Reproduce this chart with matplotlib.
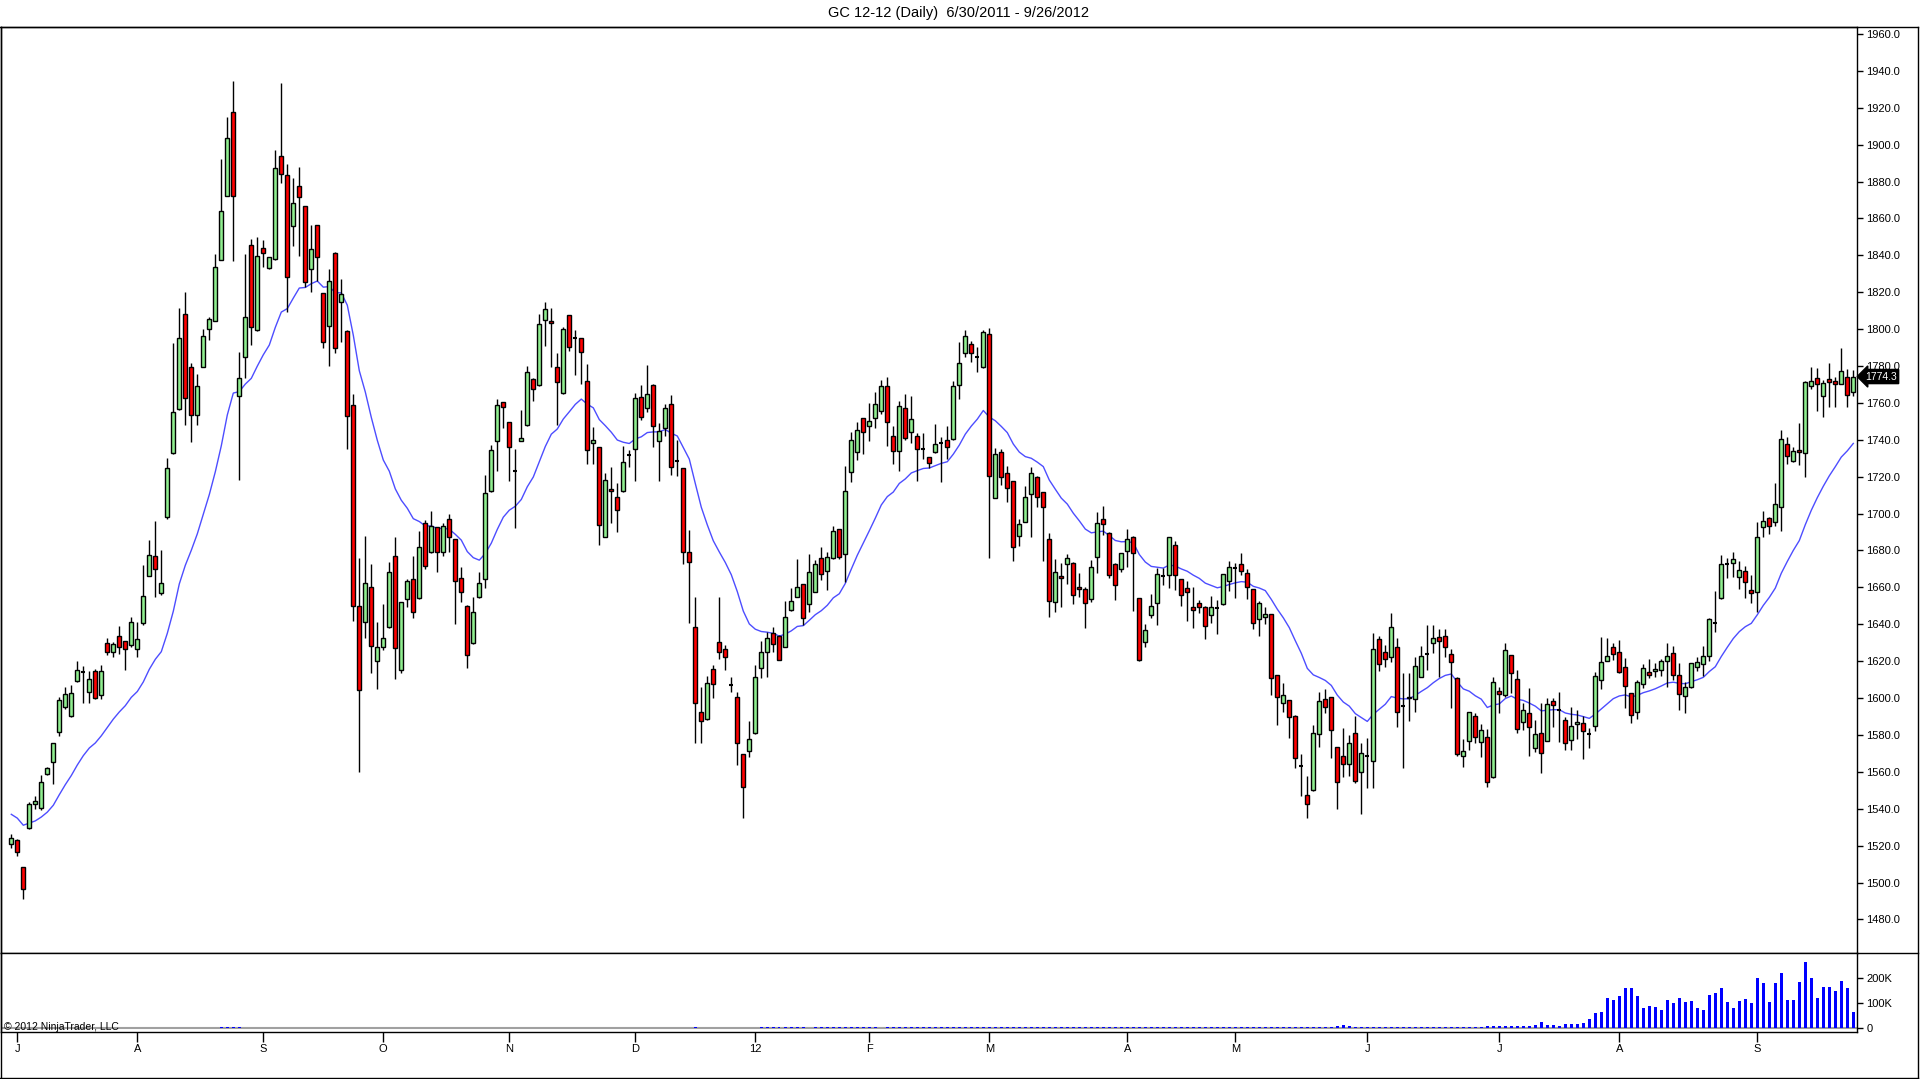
import matplotlib
matplotlib.use('Agg')
import matplotlib.pyplot as plt
import numpy as np
from matplotlib.lines import Line2D

plt.rcParams['font.family'] = ['Liberation Sans', 'DejaVu Sans']

title = 'GC 12-12 (Daily)  6/30/2011 - 9/26/2012'

opens = [
1520.8,1523.1,1508.5,1529.8,1542.4,1540.6,1558.7,1565.6,1581.8,1595.4,
1590.3,1609.1,1614.4,1603.2,1614.5,1601.9,1629.7,1624.8,1633.5,1630.8,
1628.6,1626.6,1640.5,1666.2,1676.9,1657.0,1698.3,1732.6,1756.6,1808.4,
1779.3,1753.6,1779.7,1800.1,1804.4,1837.6,1872.3,1917.9,1763.5,1785.0,
1845.5,1799.5,1843.8,1832.9,1837.8,1893.6,1883.3,1855.9,1877.3,1866.7,
1832.4,1856.2,1819.4,1801.6,1841.4,1814.5,1799.1,1758.7,1650.0,1641.1,
1660.1,1620.1,1627.9,1638.4,1677.2,1615.3,1653.6,1664.4,1654.1,1694.8,
1679.0,1692.6,1679.0,1697.3,1686.1,1665.0,1650.0,1629.7,1654.6,1664.4,
1712.1,1739.5,1760.3,1749.5,1723.1,1739.5,1747.8,1772.8,1769.5,1804.8,
1804.4,1779.3,1765.2,1807.7,1795.4,1795.0,1771.9,1738.1,1735.9,1687.5,
1713.2,1708.8,1712.1,1732.0,1734.8,1763.4,1757.4,1769.7,1739.3,1746.2,
1759.2,1728.7,1724.5,1679.4,1638.7,1592.3,1588.5,1615.6,1630.6,1626.4,
1607.1,1600.4,1569.5,1571.3,1580.9,1616.1,1624.8,1635.1,1633.6,1627.9,
1647.7,1654.9,1661.6,1650.8,1657.6,1676.1,1669.0,1675.7,1691.4,1677.9,
1722.3,1733.5,1751.6,1747.4,1751.6,1755.7,1769.1,1742.2,1734.1,1757.0,
1744.4,1742.2,1734.8,1730.5,1733.2,1738.4,1739.9,1740.2,1769.7,1786.8,
1791.7,1785.0,1779.2,1797.1,1708.6,1733.2,1721.8,1717.6,1688.0,1695.6,
1710.4,1719.6,1711.5,1686.0,1651.9,1666.1,1672.5,1673.0,1660.0,1658.9,
1653.5,1676.3,1697.0,1689.3,1672.5,1669.9,1679.7,1687.1,1654.0,1630.2,
1645.0,1651.3,1666.3,1666.7,1683.0,1664.3,1659.5,1649.2,1651.3,1649.5,
1645.0,1648.6,1651.0,1663.4,1670.7,1672.5,1668.0,1658.9,1642.9,1643.8,
1645.4,1612.5,1597.2,1599.0,1590.3,1563.2,1547.5,1550.2,1580.4,1599.5,
1600.4,1573.3,1568.6,1564.1,1580.9,1559.8,1568.6,1566.1,1631.9,1624.8,
1622.5,1627.5,1595.7,1599.9,1599.5,1611.6,1623.9,1629.7,1633.0,1633.7,
1624.0,1611.1,1568.8,1577.0,1590.3,1576.4,1578.8,1557.1,1604.1,1601.7,
1623.4,1610.2,1586.9,1591.8,1572.8,1581.0,1576.8,1598.5,1593.6,1588.2,
1577.3,1586.0,1586.7,1580.4,1584.9,1609.9,1620.3,1627.6,1625.2,1617.1,
1602.6,1592.7,1607.7,1614.3,1614.7,1615.2,1620.1,1624.3,1612.5,1601.2,
1605.9,1616.7,1618.3,1622.8,1640.5,1654.1,1672.5,1673.1,1665.8,1668.9,
1658.6,1657.3,1692.9,1697.4,1695.3,1703.4,1737.5,1728.5,1734.5,1732.7,
1769.2,1773.3,1763.7,1772.8,1772.1,1770.2,1774.2,1765.7]

highs = [
1526.2,1523.5,1508.5,1543.9,1547.0,1558.2,1562.5,1575.9,1600.4,1605.9,
1607.1,1620.1,1617.4,1614.7,1616.0,1617.8,1632.6,1630.6,1639.1,1631.0,
1643.8,1641.1,1672.2,1685.5,1696.2,1680.1,1730.0,1792.6,1811.2,1820.0,
1781.4,1775.4,1800.1,1806.5,1840.8,1892.2,1914.7,1934.4,1787.7,1840.5,
1848.6,1849.7,1848.3,1839.1,1897.0,1933.2,1889.3,1882.0,1887.6,1866.9,
1856.4,1856.4,1819.6,1832.4,1841.6,1827.1,1799.3,1764.7,1675.8,1687.9,
1672.5,1641.1,1651.0,1674.0,1687.5,1652.3,1664.4,1677.2,1690.6,1696.6,
1701.4,1692.8,1694.8,1699.8,1686.3,1670.9,1650.2,1654.6,1668.2,1720.9,
1737.2,1761.9,1760.5,1749.7,1734.8,1756.2,1780.0,1773.3,1808.2,1814.5,
1811.3,1786.9,1801.3,1807.9,1799.5,1795.2,1781.1,1747.1,1736.1,1722.2,
1725.4,1716.8,1736.6,1734.5,1765.5,1769.7,1780.5,1770.2,1748.9,1759.4,
1764.3,1739.9,1724.7,1691.1,1654.6,1605.8,1612.0,1618.0,1654.6,1628.8,
1611.3,1603.5,1569.7,1587.6,1617.9,1630.9,1636.0,1638.7,1634.0,1652.6,
1659.8,1675.2,1661.8,1678.1,1674.8,1681.7,1679.3,1693.2,1691.6,1725.8,
1744.0,1749.8,1751.8,1759.7,1765.7,1772.4,1774.2,1747.4,1761.0,1764.6,
1763.7,1743.5,1743.5,1730.7,1748.3,1741.7,1747.4,1771.8,1793.1,1799.5,
1793.5,1790.4,1799.5,1800.4,1735.3,1734.8,1726.0,1717.8,1697.0,1714.9,
1725.0,1720.3,1711.7,1689.3,1675.2,1673.0,1678.1,1673.5,1667.6,1660.4,
1674.8,1701.0,1704.1,1689.8,1673.4,1678.6,1691.6,1688.0,1654.4,1640.0,
1656.2,1670.3,1670.3,1687.3,1685.3,1664.5,1663.4,1660.4,1653.1,1649.7,
1655.5,1653.1,1667.2,1674.2,1673.0,1678.5,1670.0,1659.1,1652.6,1649.2,
1645.6,1612.7,1608.4,1599.2,1590.8,1569.7,1557.8,1585.4,1603.1,1604.8,
1600.6,1573.5,1584.0,1580.0,1590.3,1575.5,1578.2,1635.1,1633.7,1628.8,
1645.9,1632.4,1613.4,1613.4,1622.5,1628.2,1639.7,1639.7,1637.3,1637.3,
1626.5,1611.3,1577.7,1592.5,1591.8,1585.8,1583.1,1611.7,1606.2,1630.1,
1623.6,1615.3,1597.2,1605.3,1588.2,1597.2,1599.9,1599.9,1603.5,1590.0,
1595.4,1593.6,1590.3,1583.7,1614.4,1633.0,1632.8,1629.7,1631.5,1621.6,
1602.8,1609.8,1618.5,1621.0,1619.2,1621.0,1629.7,1628.2,1618.8,1608.9,
1618.9,1622.1,1628.2,1643.2,1658.2,1677.6,1675.8,1679.0,1674.5,1671.8,
1666.7,1695.6,1701.4,1698.3,1716.4,1745.3,1741.7,1735.9,1748.9,1771.7,
1779.6,1778.7,1772.4,1781.5,1774.2,1789.6,1778.2,1777.8]

lows = [
1518.6,1514.6,1491.3,1529.1,1539.9,1539.6,1558.2,1553.7,1579.7,1593.9,
1589.6,1608.8,1597.6,1597.6,1599.5,1599.5,1623.4,1622.5,1623.9,1615.4,
1627.9,1622.5,1639.4,1666.0,1654.8,1655.9,1697.3,1732.4,1756.4,1748.2,
1739.0,1748.2,1779.5,1794.3,1804.2,1837.4,1872.1,1837.0,1718.2,1773.6,
1791.4,1799.2,1833.8,1832.7,1837.6,1879.3,1809.4,1845.2,1839.8,1823.0,
1819.9,1826.2,1789.5,1780.0,1786.8,1793.2,1734.8,1642.0,1560.2,1632.8,
1613.5,1604.8,1626.1,1638.2,1610.2,1613.8,1649.6,1643.3,1653.6,1669.8,
1678.8,1668.6,1677.2,1679.4,1640.2,1652.3,1616.2,1629.5,1654.4,1659.5,
1711.9,1723.1,1746.6,1717.9,1692.4,1739.3,1747.6,1761.0,1769.3,1790.8,
1779.6,1748.0,1765.0,1788.1,1775.1,1770.2,1726.9,1726.7,1683.0,1687.3,
1694.7,1689.9,1711.9,1725.4,1717.9,1750.7,1755.2,1736.3,1717.9,1742.2,
1720.9,1720.4,1672.5,1640.5,1575.8,1575.8,1588.3,1599.9,1621.2,1615.2,
1603.5,1563.7,1534.8,1568.3,1580.7,1610.7,1611.3,1624.8,1620.4,1627.7,
1647.4,1654.7,1639.6,1646.8,1657.4,1664.0,1658.6,1675.5,1675.2,1663.1,
1717.3,1729.0,1732.1,1739.3,1746.5,1753.9,1736.6,1726.7,1723.0,1739.9,
1738.0,1717.8,1729.6,1724.5,1732.6,1716.9,1729.4,1740.0,1761.9,1785.0,
1781.9,1776.5,1779.0,1675.7,1708.2,1715.5,1706.1,1674.4,1682.6,1695.4,
1687.5,1703.7,1674.4,1644.1,1646.4,1649.5,1661.8,1650.8,1654.9,1637.8,
1651.9,1667.6,1688.4,1664.9,1653.1,1668.5,1671.2,1647.2,1620.1,1627.8,
1643.6,1639.6,1661.3,1659.5,1658.6,1649.9,1641.7,1637.8,1645.9,1631.8,
1640.5,1634.5,1650.4,1658.0,1654.1,1666.7,1653.5,1637.3,1633.8,1640.0,
1601.7,1585.4,1592.6,1578.2,1561.9,1547.1,1535.2,1549.6,1573.7,1591.7,
1567.7,1539.7,1557.4,1558.0,1553.8,1537.0,1551.1,1551.1,1614.7,1617.0,
1619.8,1584.5,1561.9,1587.8,1592.6,1611.4,1615.3,1624.7,1611.7,1622.5,
1594.5,1568.8,1562.9,1571.6,1575.9,1568.3,1552.0,1556.9,1591.8,1600.5,
1602.6,1581.0,1582.8,1568.8,1571.0,1559.3,1576.6,1584.6,1576.4,1571.9,
1571.9,1577.7,1566.9,1572.8,1582.4,1604.8,1620.1,1620.7,1613.5,1594.9,
1586.4,1588.5,1605.3,1610.7,1611.3,1612.0,1606.2,1609.8,1593.6,1591.8,
1605.7,1614.9,1612.0,1620.3,1636.0,1653.9,1664.9,1665.8,1658.9,1654.1,
1651.7,1646.8,1687.1,1688.9,1693.5,1690.8,1726.7,1727.8,1726.3,1719.7,
1767.4,1755.8,1752.5,1758.0,1757.6,1770.0,1757.6,1763.7]

closes = [
1524.0,1516.4,1496.4,1542.6,1544.3,1554.4,1562.0,1575.5,1599.0,1602.1,
1602.6,1615.1,1614.4,1610.2,1600.3,1614.5,1624.8,1629.2,1627.5,1626.5,
1641.1,1631.9,1655.5,1677.3,1669.8,1662.4,1724.5,1754.9,1795.2,1762.6,
1753.6,1769.0,1796.2,1805.4,1833.7,1863.9,1903.6,1872.3,1773.3,1806.7,
1801.3,1839.6,1841.4,1838.9,1887.1,1883.9,1828.0,1868.1,1871.4,1825.3,
1843.2,1838.9,1792.8,1825.9,1789.9,1818.8,1752.9,1650.0,1604.4,1662.2,
1628.3,1627.9,1632.8,1668.6,1627.0,1651.9,1663.7,1646.5,1681.7,1671.8,
1693.5,1679.0,1693.5,1687.2,1663.5,1657.4,1623.4,1646.5,1662.6,1711.0,
1734.3,1758.7,1757.6,1735.9,1723.1,1740.8,1776.6,1767.4,1802.6,1810.7,
1803.1,1771.2,1799.9,1790.5,1795.4,1787.8,1734.3,1739.7,1693.6,1718.0,
1712.1,1701.8,1727.8,1732.0,1762.5,1752.2,1764.6,1747.5,1744.8,1757.0,
1725.1,1728.7,1679.0,1673.6,1597.2,1587.6,1608.0,1607.6,1624.8,1622.1,
1607.1,1575.5,1552.0,1577.6,1611.6,1624.8,1632.4,1629.1,1620.6,1644.1,
1652.6,1660.4,1643.2,1668.1,1672.5,1667.0,1676.6,1690.7,1676.6,1712.4,
1739.7,1745.1,1744.0,1750.1,1759.2,1769.1,1749.8,1734.1,1758.3,1740.8,
1751.1,1734.8,1734.8,1727.2,1737.5,1738.4,1735.9,1769.1,1781.4,1796.4,
1786.8,1785.0,1798.2,1720.5,1732.1,1719.6,1713.7,1682.0,1694.1,1708.8,
1721.8,1709.1,1703.7,1652.6,1668.5,1664.9,1676.1,1655.8,1658.9,1651.3,
1671.2,1694.7,1694.1,1666.7,1661.3,1678.4,1686.0,1678.4,1620.6,1636.9,
1650.0,1667.0,1666.3,1687.1,1666.7,1655.8,1657.3,1647.7,1649.2,1639.0,
1649.5,1648.6,1667.0,1671.2,1670.7,1668.9,1660.0,1640.5,1651.4,1645.6,
1610.7,1600.4,1601.7,1589.9,1567.4,1563.2,1542.4,1580.9,1598.4,1595.0,
1582.7,1554.3,1564.1,1575.5,1555.2,1570.1,1568.6,1626.4,1618.3,1621.0,
1638.4,1592.3,1595.7,1600.8,1617.6,1623.0,1623.9,1632.4,1631.2,1627.6,
1619.8,1569.6,1571.4,1592.3,1579.1,1582.8,1554.4,1608.6,1602.1,1625.8,
1613.5,1583.1,1593.6,1584.2,1580.6,1570.1,1596.7,1596.3,1593.6,1575.9,
1584.9,1587.3,1582.2,1580.4,1612.2,1619.4,1622.9,1623.8,1614.4,1606.8,
1590.9,1608.9,1616.1,1612.5,1615.6,1620.1,1622.8,1612.5,1602.2,1606.2,
1618.9,1619.4,1622.8,1642.7,1640.5,1672.5,1672.5,1675.2,1669.4,1662.8,
1656.8,1687.1,1696.0,1693.5,1705.0,1740.3,1731.4,1734.1,1733.2,1771.5,
1772.1,1770.2,1770.6,1771.2,1770.1,1777.5,1764.3,1774.3]

# volume in thousands of contracts
volume_k = [
0,0,0,0,0,0,0,0,0,0,
0,0,0,0,0,0,0,0,0,0,
0,0,0,0,0,0,0,0,0,0,
0,0,0,0,0,6,6,6,6,0,
0,0,0,0,0,0,0,0,0,0,
0,0,0,0,0,0,0,0,0,0,
0,0,0,0,0,0,0,0,0,0,
0,0,0,0,0,0,0,0,0,0,
0,0,0,0,0,0,0,0,0,0,
0,0,0,0,0,0,0,0,0,0,
0,0,0,0,0,0,0,0,0,0,
0,0,0,0,6,0,0,0,0,0,
0,0,0,0,0,6,6,6,6,6,
6,6,6,0,6,6,6,6,6,6,
6,6,6,6,6,0,6,6,6,6,
6,6,6,6,6,6,6,6,6,6,
6,6,6,6,6,6,6,6,6,6,
6,6,6,6,6,6,6,6,6,6,
6,6,6,6,6,6,6,6,6,6,
6,6,6,6,6,6,6,6,6,6,
6,6,6,6,6,6,6,6,6,6,
6,6,6,6,6,6,6,6,6,6,
6,10,12,8,6,6,6,6,6,6,
6,6,6,6,6,6,6,6,6,6,
6,6,6,7,7,7,8,8,9,9,
10,10,11,11,12,25,12,12,8,17,
17,17,21,37,61,65,121,113,129,161,
161,129,81,89,85,73,113,101,121,105,
109,81,73,133,141,161,105,81,109,117,
101,201,181,105,181,221,113,113,185,265,
201,121,165,165,149,189,161,65]

month_labels = ['J', 'A', 'S', 'O', 'N', 'D', '12', 'F', 'M', 'A', 'M', 'J', 'J', 'A', 'S']
month_bars = [1, 21, 42, 62, 83, 104, 124, 143, 163, 186, 204, 226, 248, 268, 291]

price_ticks = [1480, 1500, 1520, 1540, 1560, 1580, 1600, 1620, 1640, 1660, 1680, 1700,
               1720, 1740, 1760, 1780, 1800, 1820, 1840, 1860, 1880, 1900, 1920, 1940, 1960]
vol_ticks = [0, 100, 200]
vol_tick_labels = ['0', '100K', '200K']

ema_span = 19          # moving average period of the blue line
ema_start = 1537.0     # moving average value at the first bar

last_price_label = '1774.3'
copyright_text = '\u00a9 2012 NinjaTrader, LLC'

# ---------------------------------------------------------------
O = np.array(opens); H = np.array(highs); L = np.array(lows); C = np.array(closes)
V = np.array(volume_k, dtype=float)
n = len(C)
x = np.arange(n)

alpha = 2.0 / (ema_span + 1)
ma = [ema_start]
for c in C[1:]:
    ma.append(ma[-1] + alpha * (c - ma[-1]))
ma = np.array(ma)

W, Hh = 1920, 1079
fig = plt.figure(figsize=(W / 100, Hh / 100), dpi=100)
fig.patch.set_facecolor('white')

def fx(px):
    return px / W

def fy(py):
    return 1 - py / Hh

top_y, sep_y, vbot_y = 26.9, 952.7, 1031.7
left_x, axis_x = 1.0, 1856.5

ax = fig.add_axes([fx(left_x), fy(sep_y), fx(axis_x) - fx(left_x), fy(top_y) - fy(sep_y)])
axv = fig.add_axes([fx(left_x), fy(vbot_y), fx(axis_x) - fx(left_x), fy(sep_y) - fy(vbot_y)], sharex=ax)

# x limits: bar i centred at 11.3 + 6 i pixels
x0 = (left_x - 11.3) / 6.0
x1 = (axis_x - 11.3) / 6.0
ax.set_xlim(x0, x1)
ax.set_ylim(1462.0, 1963.8)

# moving average
ax.plot(x, ma, color='#3a3aff', lw=1.0, zorder=1, alpha=0.9)

# candles
up = C > O
down = C < O
flat = C == O
ax.vlines(x, L, H, color='black', lw=1.0, zorder=2)
body_lo = np.minimum(O, C)
body_h = np.abs(C - O)
bw = 0.68
ax.bar(x[up], body_h[up], bottom=body_lo[up], width=bw, color='#90EE90',
       edgecolor='black', linewidth=1.0, zorder=3)
ax.bar(x[down], body_h[down], bottom=body_lo[down], width=bw, color='#FF0000',
       edgecolor='black', linewidth=1.0, zorder=3)
ax.hlines(C[flat], x[flat] - bw / 2, x[flat] + bw / 2, color='black', lw=1.5, zorder=3)

ax.yaxis.tick_right()
ax.set_yticks(price_ticks)
ax.set_yticklabels(['%.1f' % p for p in price_ticks])
ax.tick_params(axis='y', direction='out', length=4, width=1, labelsize=8, pad=3, colors='black')
ax.tick_params(axis='x', bottom=False, labelbottom=False)
for s in ax.spines.values():
    s.set_linewidth(1.0)
    s.set_color('black')

# last price marker
ax.annotate(last_price_label, xy=(x1, C[-1]), xycoords='data',
            xytext=(6, 0), textcoords='offset points', ha='left', va='center',
            fontsize=7.5, color='white', annotation_clip=False,
            bbox=dict(boxstyle='larrow,pad=0.2', fc='black', ec='black'))

# volume panel
axv.bar(x, V * 1000, width=0.4, color='#0000ff', zorder=3)
axv.axhline(0, color='#a0a0a0', lw=1.5, zorder=2)
axv.set_ylim(-13.6e3, 302.4e3)
axv.yaxis.tick_right()
axv.set_yticks([v * 1000 for v in vol_ticks])
axv.set_yticklabels(vol_tick_labels)
axv.tick_params(axis='y', direction='out', length=4, width=1, labelsize=8, pad=3)
axv.set_xticks(month_bars)
axv.set_xticklabels(month_labels)
axv.tick_params(axis='x', direction='out', length=7, width=1, labelsize=8, pad=2)
for s in axv.spines.values():
    s.set_linewidth(1.0)
    s.set_color('black')

axv.text(0.0015, 0.0, copyright_text, transform=axv.transAxes, fontsize=7.5,
         ha='left', va='bottom', color='black')

# title
fig.text(fx(958), fy(13.5), title, ha='center', va='center', fontsize=10.5)

# outer frame lines
def fline(xa, ya, xb, yb):
    fig.add_artist(Line2D([fx(xa), fx(xb)], [fy(ya), fy(yb)], transform=fig.transFigure,
                          color='black', lw=1.0))

fline(0, top_y, 1917.5, top_y)
fline(1917.5, top_y, 1917.5, 1077.5)
fline(0, 1077.5, 1917.5, 1077.5)
fline(0.5, top_y, 0.5, 1077.5)
fline(axis_x, sep_y, 1917.5, sep_y)

fig.savefig('out.png', dpi=100, facecolor='white')
